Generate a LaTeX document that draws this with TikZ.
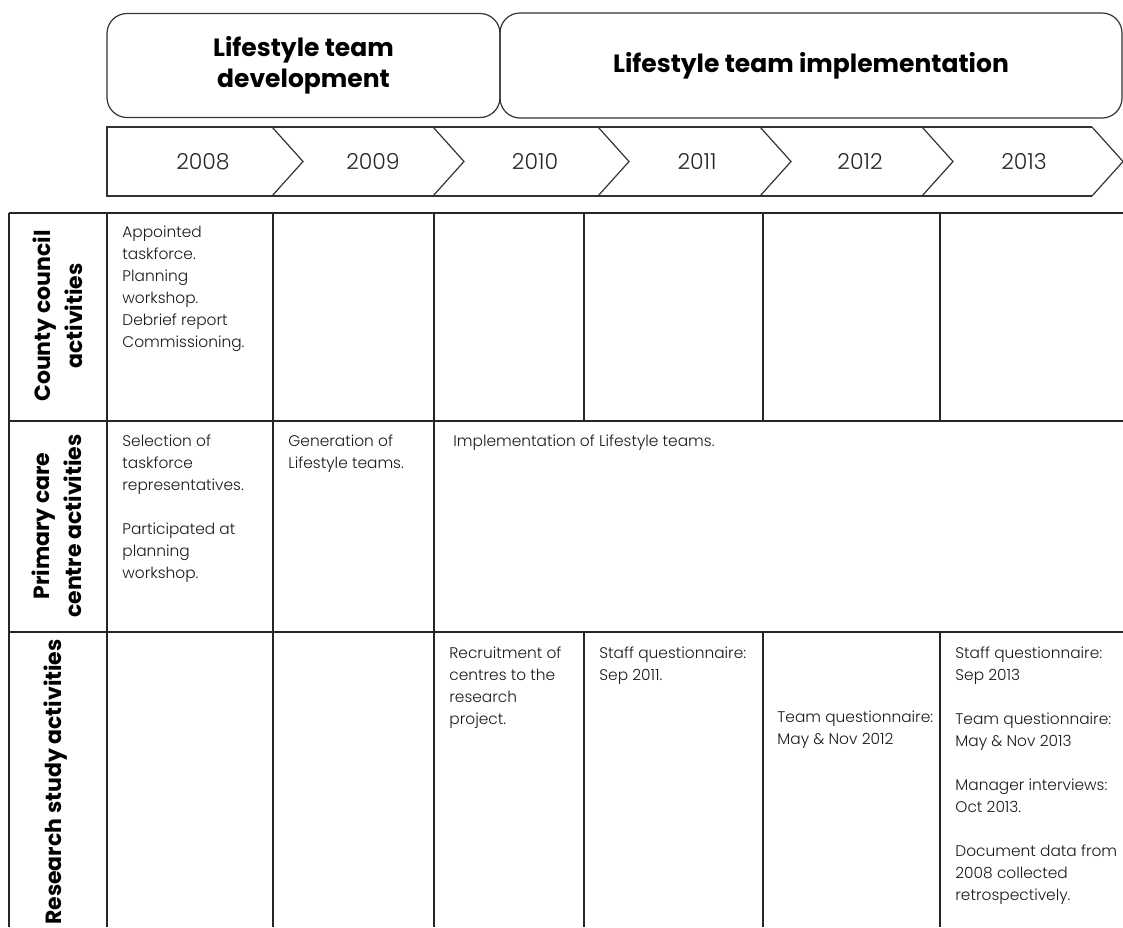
\documentclass[tikz,border=0pt]{standalone}
\usepackage{fontspec}
\usepackage{tikz}
\usetikzlibrary{positioning}

\IfFontExistsTF{Poppins Light}{\newfontfamily\bodyfont{Poppins Light}}{\newfontfamily\bodyfont{Poppins}}
\newfontfamily\headfont{Poppins}

\begin{document}
\begin{tikzpicture}[x=0.5pt, y=-0.5pt]
        % Define block styles
        \tikzstyle{phase} = [draw=black!80, line width=0.6pt, rounded corners=10pt, align=center, font=\headfont\bfseries\fontsize{12.5}{15.5}\selectfont]
        \tikzstyle{chev} = [draw=black!80, line width=0.6pt]
        \tikzstyle{grid} = [draw=black!85, line width=0.7pt]
        \tikzstyle{year} = [font=\bodyfont\fontsize{11}{13}\selectfont, text=black!85]
        \tikzstyle{cell} = [anchor=north west, inner sep=0pt, align=left, font=\bodyfont\fontsize{7.7}{11}\selectfont, text=black!90]
        \tikzstyle{rowhead} = [rotate=90, align=center, font=\headfont\bfseries\fontsize{11}{16}\selectfont]

        \useasboundingbox (0,0) rectangle (1123,927);

        % Phases
        \node (dev) [phase, minimum width=196.5pt, minimum height=52pt] at (303.5,65.5) {Lifestyle team\\development};
        \node (impl) [phase, minimum width=311pt, minimum height=52.5pt] at (811,65.5) {Lifestyle team implementation};

        % Years
        \draw [chev] (1092,127) -- (107,127) -- (107,196) -- (1092,196);
        \foreach \xb in {272,433,598,760,922,1092}
            \draw [chev] (\xb,127) -- ++(31,34.5) -- (\xb,196);
        \foreach \xc/\yr in {203/2008, 373/2009, 535/2010, 697/2011, 860/2012, 1024/2013}
            \node (y\yr) [year] at (\xc,161.5) {\yr};

        % Table
        \foreach \yy in {213,421,632}
            \draw [grid] (9,\yy) -- (1123,\yy);
        \foreach \xx in {9,107,273,434}
            \draw [grid] (\xx,213) -- (\xx,927);
        \foreach \xx in {584,763,940} {
            \draw [grid] (\xx,213) -- (\xx,421);
            \draw [grid] (\xx,632) -- (\xx,927);
        }

        % Row headers
        \node (cchead) [rowhead] at (58,316) {County council\\activities};
        \node (pchead) [rowhead] at (57,526) {Primary care\\centre activities};
        \node (rshead) [rowhead] at (56,782) {Research study activities};

        % Cells
        \node (cc08) [cell] at (122,226) {Appointed\\taskforce.\\Planning\\workshop.\\Debrief report\\Commissioning.};
        \node (pc08) [cell] at (122,434) {Selection of\\taskforce\\representatives.\\[11pt]Participated at\\planning\\workshop.};
        \node (pc09) [cell] at (288,434) {Generation of\\Lifestyle teams.};
        \node (pc10) [cell] at (453,434) {Implementation of Lifestyle teams.};
        \node (rs10) [cell] at (449,646) {Recruitment of\\centres to the\\research\\project.};
        \node (rs11) [cell] at (599,646) {Staff questionnaire:\\Sep 2011.};
        \node (rs12) [cell] at (777,711) {Team questionnaire:\\May \& Nov 2012};
        \node (rs13) [cell] at (955,646) {Staff questionnaire:\\Sep 2013\\[11pt]Team questionnaire:\\May \& Nov 2013\\[11pt]Manager interviews:\\Oct 2013.\\[11pt]Document data from\\2008 collected\\retrospectively.};
\end{tikzpicture}
\end{document}
